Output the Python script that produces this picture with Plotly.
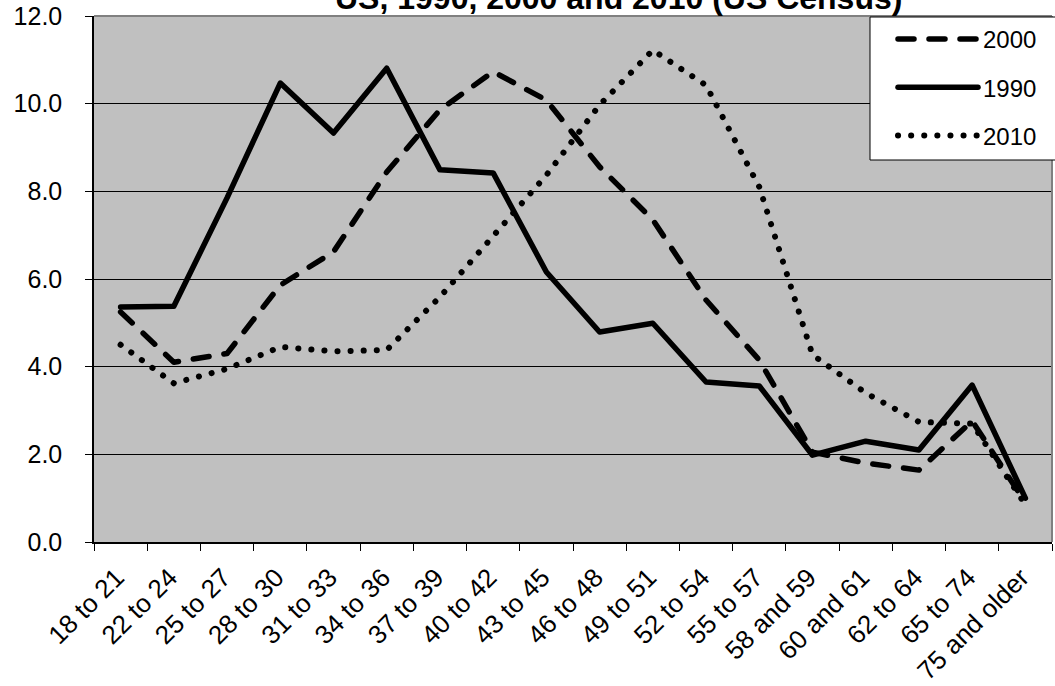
import plotly.graph_objects as go

categories = ["18 to 21", "22 to 24", "25 to 27", "28 to 30", "31 to 33", "34 to 36",
              "37 to 39", "40 to 42", "43 to 45", "46 to 48", "49 to 51", "52 to 54",
              "55 to 57", "58 and 59", "60 and 61", "62 to 64", "65 to 74", "75 and older"]
y2000 = [5.25, 4.1, 4.3, 5.86, 6.62, 8.44, 9.86, 10.73, 10.08, 8.56, 7.35, 5.52,
         4.15, 2.05, 1.8, 1.64, 2.76, 0.9]
y1990 = [5.36, 5.38, 7.85, 10.47, 9.33, 10.81, 8.49, 8.42, 6.16, 4.79, 4.99, 3.65,
         3.56, 1.98, 2.3, 2.1, 3.58, 1.0]
y2010 = [4.5, 3.62, 3.95, 4.45, 4.35, 4.38, 5.59, 6.96, 8.37, 9.97, 11.22, 10.42,
         8.1, 4.27, 3.4, 2.74, 2.7, 0.85]
yticks = [0, 2, 4, 6, 8, 10, 12]
ytick_labels = ["0.0", "2.0", "4.0", "6.0", "8.0", "10.0", "12.0"]
title_text = "US, 1990, 2000 and 2010 (US Census)"

FONT = "Liberation Sans, Arial, sans-serif"
W, H = 1055, 686
L, R, T, B = 94, 3, 16, 144
PW, PH = W - L - R, H - T - B


def px_x(p):
    return (p - L) / PW


def px_y(p):
    return (H - B - p) / PH


fig = go.Figure()
fig.add_trace(go.Scatter(x=categories, y=y2000, name="2000", mode="lines", legendgroup="a",
                         line=dict(color="black", width=5.5, dash="16px,15px")))
fig.add_trace(go.Scatter(x=categories, y=y1990, name="1990", mode="lines", legendgroup="b",
                         line=dict(color="black", width=5.5)))
fig.add_trace(go.Scatter(x=categories, y=y2010, name="2010", mode="lines", legendgroup="c",
                         line=dict(color="black", width=6, dash="0.1px,13px")))

fig.update_layout(
    width=W, height=H,
    margin=dict(l=L, r=R, t=T, b=B, autoexpand=False),
    paper_bgcolor="white",
    plot_bgcolor="#C0C0C0",
    font=dict(family=FONT, color="black", size=24),
    showlegend=True,
    legend=dict(x=px_x(893), y=px_y(17), xanchor="left", yanchor="top",
                bgcolor="rgba(0,0,0,0)", borderwidth=0,
                font=dict(size=24, family=FONT), tracegroupgap=14,
                itemwidth=80, traceorder="grouped"),
    xaxis=dict(type="category", tickangle=-45, tickson="boundaries", ticks="outside",
               ticklen=7, tickcolor="black", showline=True, linecolor="black", linewidth=2,
               showgrid=False, tickfont=dict(size=26, family=FONT),
               ticklabelstandoff=8, ticklabelshift=-4,
               range=[-0.5, len(categories) - 0.5]),
    yaxis=dict(range=[0, 12], tickvals=yticks, ticktext=ytick_labels, ticks="outside",
               ticklen=7, tickcolor="black", showline=True, linecolor="black", linewidth=1.5,
               showgrid=True, gridcolor="black", gridwidth=1, zeroline=False,
               ticklabeloverflow="allow", ticklabelstandoff=18,
               tickfont=dict(size=25, family=FONT)),
    annotations=[dict(text="<b>" + title_text + "</b>", xref="paper", yref="paper",
                      x=px_x(618), y=px_y(18), xanchor="center", yanchor="bottom",
                      showarrow=False, font=dict(size=32, family=FONT, color="black"))],
    shapes=[
        dict(type="line", xref="paper", yref="paper", x0=0, x1=1, y0=1, y1=1,
             line=dict(color="#808080", width=2), layer="above"),
        dict(type="line", xref="paper", yref="paper", x0=1, x1=1, y0=0, y1=1,
             line=dict(color="#808080", width=2), layer="above"),
        dict(type="rect", xref="paper", yref="paper", x0=px_x(870), x1=px_x(1062),
             y0=px_y(160), y1=px_y(17), fillcolor="white",
             line=dict(color="black", width=1), layer="above"),
    ],
)

post = (
    "document.body.style.margin='0';document.body.style.overflow='hidden';"
    "document.querySelectorAll('.scatterlayer path.js-line, .legend .legendlines path')"
    ".forEach(function(p){p.style.strokeLinecap='round';p.style.strokeLinejoin='round';});"
)
fig.write_html("out.html", config={"displayModeBar": False}, post_script=post)
